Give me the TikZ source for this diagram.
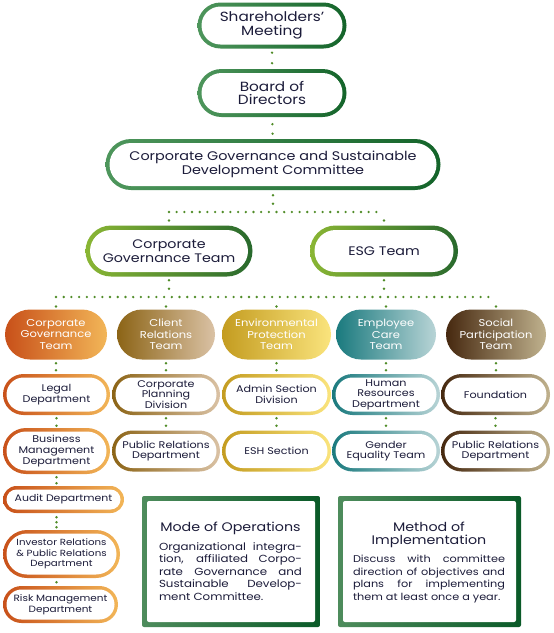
\documentclass[tikz,border=0pt]{standalone}
\usepackage{fontspec}
\setmainfont{Poppins}[FakeStretch=1.15]
\usetikzlibrary{shapes.misc,calc,backgrounds}
\definecolor{txtc}{RGB}{28,28,58}
\definecolor{gL}{RGB}{78,150,92}
\definecolor{gR}{RGB}{20,100,42}
\definecolor{tL}{RGB}{138,182,52}
\definecolor{tR}{RGB}{40,105,45}
\definecolor{oL}{RGB}{200,80,25}
\definecolor{oR}{RGB}{242,182,88}
\definecolor{cL}{RGB}{140,100,22}
\definecolor{cR}{RGB}{218,194,165}
\definecolor{eL}{RGB}{196,156,32}
\definecolor{eR}{RGB}{250,228,125}
\definecolor{mL}{RGB}{26,122,126}
\definecolor{mR}{RGB}{184,212,214}
\definecolor{sL}{RGB}{70,40,15}
\definecolor{sR}{RGB}{192,178,142}
\definecolor{bxL}{RGB}{78,140,92}
\definecolor{bxR}{RGB}{10,90,40}
\definecolor{dotg}{RGB}{80,140,40}
\tikzset{
  bw/.store in=\gbw, bw=4pt,
  gpill/.style 2 args={rounded rectangle, inner sep=0pt, align=center,
    left color=#1, right color=#2, text=txtc,
    path picture={\fill[white] let \p1=(path picture bounding box.south west),
      \p2=(path picture bounding box.north east) in
      [rounded corners={((\y2)-(\y1))/2-\gbw-0.01pt}]
      (\x1+\gbw,\y1+\gbw) rectangle (\x2-\gbw,\y2-\gbw);}},
  toppill/.style={gpill={gL}{gR}, bw=4pt, font=\fontsize{13.3}{13.3}\selectfont},
  midpill/.style={gpill={tL}{tR}, bw=4.5pt, minimum height=51pt, font=\fontsize{12.4}{13.5}\selectfont},
  team/.style 2 args={rounded rectangle, inner sep=0pt, align=center,
    left color=#1, right color=#2, text=white, minimum height=50pt,
    font=\fontsize{10}{11.6}\selectfont},
  sub/.style 2 args={gpill={#1}{#2}, bw=3.5pt, minimum height=41pt,
    font=\fontsize{9.7}{10.6}\selectfont},
  gbox/.style={rectangle, rounded corners=2pt, left color=bxL, right color=bxR,
    minimum height=131pt,
    path picture={\fill[white] ($(path picture bounding box.south west)+(5pt,5pt)$)
      rectangle ($(path picture bounding box.north east)+(-5pt,-5pt)$);}},
  boxtxt/.style={inner sep=0pt, align=justify, text=txtc, anchor=north,
    font=\fontsize{9.8}{12.5}\selectfont},
  dotline/.style={draw=dotg, line width=2.6pt, line cap=round, dash pattern=on 0pt off #1},
  dotline/.default=7.7pt
}
\begin{document}
\begin{tikzpicture}[x=1pt,y=-1pt]
\useasboundingbox (0,0) rectangle (554,633);
% top levels
\node[toppill, minimum width=149pt, minimum height=46pt] (sh) at (272,25.5) {Shareholders'\\Meeting};
\node[toppill, minimum width=149pt, minimum height=48pt] (bod) at (272,93) {Board of\\Directors};
\node[toppill, minimum width=335pt, minimum height=51pt, font=\fontsize{12.5}{13.5}\selectfont] (com) at (273,164.5) {Corporate Governance and Sustainable\\Development Committee};
\node[midpill, minimum width=167pt] (cgt) at (169,251) {Corporate\\Governance Team};
\node[midpill, minimum width=148pt] (esg) at (384,251) {ESG Team};
% teams
\node[team={oL}{oR}, minimum width=102pt] (t1) at (56,334.5) {Corporate\\Governance\\Team};
\node[team={cL}{cR}, minimum width=98pt] (t2) at (166,334.5) {Client\\Relations\\Team};
\node[team={eL}{eR}, minimum width=109pt] (t3) at (276.5,334.5) {Environmental\\Protection\\Team};
\node[team={mL}{mR}, minimum width=100pt] (t4) at (386,334.5) {Employee\\Care\\Team};
\node[team={sL}{sR}, minimum width=100pt] (t5) at (496,334.5) {Social\\Participation\\Team};
% row 2
\node[sub={oL}{oR}, minimum width=107pt] (a1) at (56.5,394.5) {Legal\\Department};
\node[sub={cL}{cR}, minimum width=108pt] (a2) at (166,394.5) {Corporate\\Planning\\Division};
\node[sub={eL}{eR}, minimum width=109pt] (a3) at (276.5,394.5) {Admin Section\\Division};
\node[sub={mL}{mR}, minimum width=108pt] (a4) at (386,394.5) {Human\\Resources\\Department};
\node[sub={sL}{sR}, minimum width=109pt] (a5) at (495.5,394.5) {Foundation};
% row 3
\node[sub={oL}{oR}, minimum width=107pt, minimum height=46pt] (b1) at (56.5,451) {Business\\Management\\Department};
\node[sub={cL}{cR}, minimum width=108pt] (b2) at (166,451) {Public Relations\\Department};
\node[sub={eL}{eR}, minimum width=109pt] (b3) at (276.5,451) {ESH Section};
\node[sub={mL}{mR}, minimum width=108pt] (b4) at (386,451) {Gender\\Equality Team};
\node[sub={sL}{sR}, minimum width=109pt] (b5) at (495.5,451) {Public Relations\\Department};
% column 1 continued
\node[sub={oL}{oR}, minimum width=121pt, minimum height=27pt, font=\fontsize{9.5}{10.6}\selectfont] (c1) at (63.5,499.5) {Audit Department};
\node[sub={oL}{oR}, minimum width=117pt, minimum height=48pt, font=\fontsize{8.9}{10.4}\selectfont] (c2) at (61.5,554) {Investor Relations\\\& Public Relations\\Department};
\node[sub={oL}{oR}, minimum width=115pt, minimum height=37pt, font=\fontsize{9.1}{10.6}\selectfont] (c3) at (60.5,604.5) {Risk Management\\Department};
% boxes
\node[gbox, minimum width=178pt] (mode) at (231,561.5) {};
\node[gbox, minimum width=183pt] (meth) at (429.5,561.5) {};
\node[boxtxt, text width=143pt, font=\fontsize{10.3}{12.5}\selectfont] (modet) at ([xshift=-0.5pt,yshift=-26.5pt]mode.north)
  {{\centering\fontsize{12.4}{13}\selectfont Mode of Operations\par}\vspace{6pt}%
   Organizational integra-\linebreak tion, affiliated Corpo-\linebreak rate Governance and\linebreak Sustainable Develop-\linebreak ment Committee.};
\node[boxtxt, text width=152pt] (metht) at ([xshift=-0.5pt,yshift=-26.5pt]meth.north)
  {{\centering\fontsize{12.4}{12.5}\selectfont Method of\\Implementation\par}\vspace{6pt}%
   Discuss with committee\linebreak direction of objectives and\linebreak plans for implementing\linebreak them at least once a year.};
% connectors
\coordinate (j1L) at (169,212);
\coordinate (j1R) at (384,212);
\coordinate (j2L) at (56,297);
\coordinate (j2R) at (496,297);
\begin{scope}[on background layer]
\draw[dotline=10.5pt, shorten <=4pt] (sh) -- (bod);
\draw[dotline=9.5pt, shorten <=7pt] (bod) -- (com);
\draw[dotline=8.5pt, shorten <=5pt] (com.south) -- (com.south |- j1L);
\draw[dotline=7.68pt] (j1L) -- (j1R);
\draw[dotline=8.5pt, shorten <=8.5pt] (j1L) -- (cgt.north);
\draw[dotline=8.5pt, shorten <=8.5pt] (j1R) -- (esg.north);
\draw[dotline=8.5pt, shorten <=3.5pt] (cgt.south) -- (cgt.south |- j2L);
\draw[dotline=8.5pt, shorten <=3.5pt] (esg.south) -- (esg.south |- j2L);
\draw[dotline=7.72pt] (j2L) -- (j2R);
\foreach \t in {t1,t2,t3,t4,t5}{
  \draw[dotline=20pt, shorten <=9.5pt] (\t.north |- j2L) -- (\t.north);
}
\foreach \t/\a/\b in {t1/a1/b1,t2/a2/b2,t3/a3/b3,t4/a4/b4,t5/a5/b5}{
  \draw[dotline=7pt, shorten <=3.5pt] (\t.south) -- (\t.south |- \a.north);
  \draw[dotline=7.5pt, shorten <=3pt] (\a.south) -- (\a.south |- \b.north);
}
\draw[dotline=6pt, shorten <=3pt] (b1.south) -- (b1.south |- c1.north);
\draw[dotline=5pt, shorten <=4pt] (b1.south |- c1.south) -- (b1.south |- c2.north);
\draw[dotline=10pt, shorten <=4pt] (b1.south |- c2.south) -- (b1.south |- c3.north);
\end{scope}
\end{tikzpicture}
\end{document}
